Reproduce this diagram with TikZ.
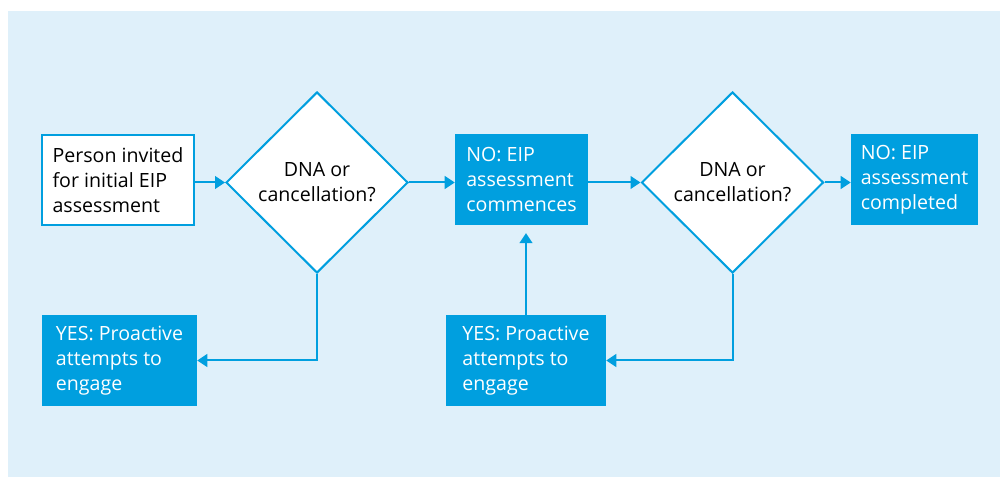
\documentclass[tikz,border=0pt]{standalone}
\usepackage{fontspec}
\setmainfont{Open Sans}
\usetikzlibrary{shapes.geometric,arrows.meta,calc}
\definecolor{flowblue}{RGB}{0,159,223}
\definecolor{panelblue}{RGB}{223,240,250}
\begin{document}
\begin{tikzpicture}[x=0.75pt,y=-0.75pt,
  every node/.style={font=\fontsize{14.7}{18.75}\selectfont, inner sep=0pt},
  flowline/.style={draw=flowblue, line width=1.5pt},
  arrowline/.style={flowline, -{Triangle[length=7.5pt,width=9.5pt]}},
  startbox/.style={draw=flowblue, line width=1.5pt, fill=white, text=black,
    align=left, minimum height=67.5pt},
  stepbox/.style={fill=flowblue, text=white, align=left, minimum height=68pt},
  decision/.style={diamond, draw=flowblue, line width=1.5pt, fill=white,
    text=black, align=center, minimum width=136.5pt, minimum height=135.75pt}
]
% panel and page size
\useasboundingbox (0,0) rectangle (1000,477);
\fill[panelblue] (8,11) rectangle (1000,477);

% top row
\node[startbox, minimum width=114pt] (start) at (118,180)
  {Person invited\\for initial EIP\\assessment};
\node[decision] (dec1) at (317,182.5) {DNA or\\cancellation?};
\node[stepbox, minimum width=99.75pt] (commence) at (521.5,179.5)
  {NO: EIP\\assessment\\commences};
\node[decision] (dec2) at (732.5,182.5) {DNA or\\cancellation?};
\node[stepbox, minimum width=95.25pt] (done) at (914.5,179.5)
  {NO: EIP\\assessment\\completed};

% bottom row
\node[stepbox, minimum width=116.25pt] (engage1) at (119.5,360.5)
  {YES: Proactive\\attempts to\\engage};
\node[stepbox, minimum width=120pt] (engage2) at (526,360.5)
  {YES: Proactive\\attempts to\\engage};

% connectors
\draw[arrowline] (start.east |- dec1.west) -- (dec1.west);
\draw[arrowline] (dec1.east) -- (commence.west |- dec1.east);
\draw[arrowline] (commence.east |- dec2.west) -- (dec2.west);
\draw[arrowline] (dec2.east) -- (done.west |- dec2.east);
\draw[arrowline] (dec1.south) |- (engage1.east);
\draw[arrowline] (dec2.south) |- (engage2.east);
\draw[arrowline, shorten >=6pt] (engage2.north) -- (engage2.north |- commence.south);
\end{tikzpicture}
\end{document}
